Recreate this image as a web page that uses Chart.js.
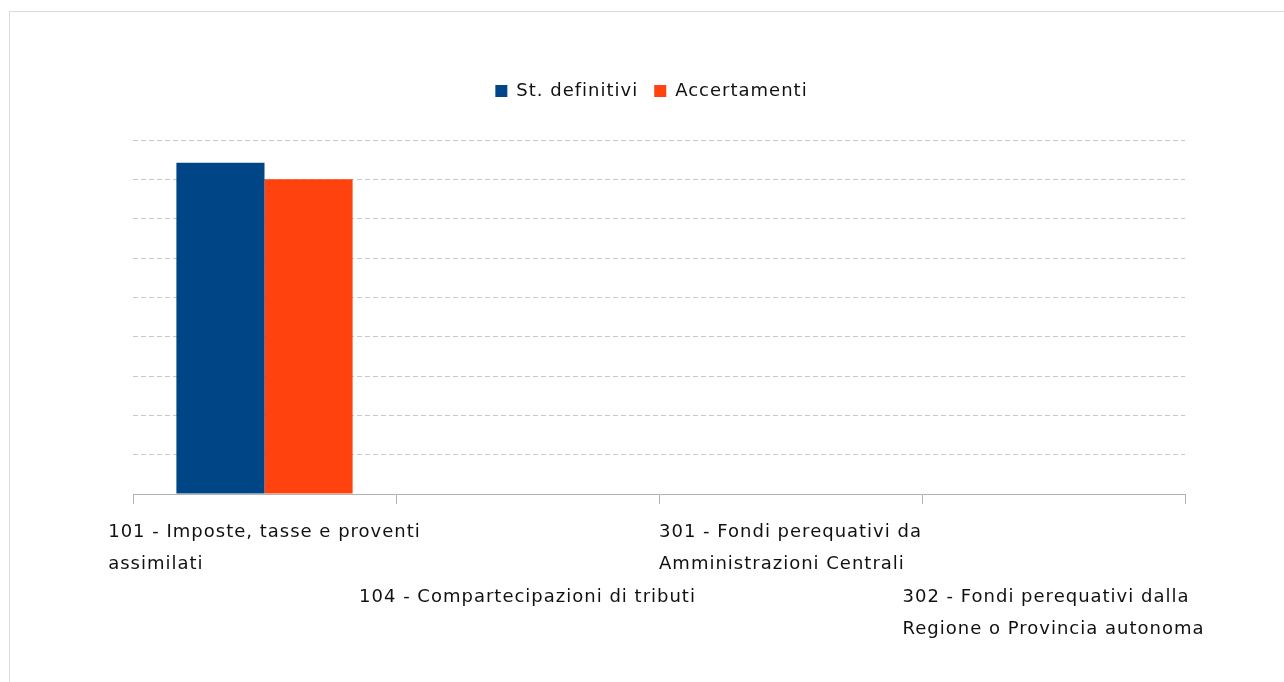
<!DOCTYPE html>
<html>
<head>
<meta charset="utf-8">
<script src="https://cdn.jsdelivr.net/npm/chart.js@4"></script>
<style>
  html, body { margin: 0; padding: 0; background: #fff; overflow: hidden; }
  #wrap { position: relative; width: 1284px; height: 682px; }
  #frame { position: absolute; left: 9px; top: 11px; width: 1400px; height: 800px;
           border-left: 1px solid #dcdcdc; border-top: 1px solid #dcdcdc; }
  canvas { position: absolute; left: 0; top: 0; }
</style>
</head>
<body>
<div id="wrap">
  <div id="frame"></div>
  <canvas id="c" width="1284" height="682"></canvas>
</div>
<script>
const categories = [
  ['101 - Imposte, tasse e proventi', 'assimilati'],
  ['104 - Compartecipazioni di tributi'],
  ['301 - Fondi perequativi da', 'Amministrazioni Centrali'],
  ['302 - Fondi perequativi dalla', 'Regione o Provincia autonoma']
];
const seriesNames = ['St. definitivi', 'Accertamenti'];
const stDefinitivi = [8.42, 0, 0, 0];
const accertamenti = [8.0, 0, 0, 0];
const yMin = 0, yMax = 9, yStep = 1;

const FONT = '"DejaVu Sans"';
const LS = '1px';

const spacingPlugin = {
  id: 'spacing',
  beforeLayout(chart) { chart.ctx.letterSpacing = LS; },
  beforeDraw(chart) { chart.ctx.letterSpacing = LS; }
};

const legendGap = {
  id: 'legendGap',
  beforeInit(chart) {
    const lg = chart.legend;
    const orig = lg.fit;
    lg.fit = function () { orig.call(this); this.height = 74; };
  }
};

const xLabels = {
  id: 'xLabels',
  afterDraw(chart) {
    const ctx = chart.ctx;
    const xs = chart.scales.x;
    const base = chart.chartArea.bottom;
    ctx.save();
    ctx.letterSpacing = LS;
    ctx.font = '18px ' + FONT;
    ctx.fillStyle = '#111';
    ctx.textAlign = 'left';
    ctx.textBaseline = 'alphabetic';
    categories.forEach((lines, i) => {
      const cx = xs.getPixelForValue(i);
      const w = Math.max(...lines.map(l => ctx.measureText(l).width));
      const x0 = cx - w / 2;
      const row = i % 2;
      lines.forEach((l, j) => {
        ctx.fillText(l, x0, base + 43 + row * 65 + j * 32);
      });
    });
    ctx.restore();
  }
};

new Chart(document.getElementById('c'), {
  type: 'bar',
  data: {
    labels: categories,
    datasets: [
      { label: seriesNames[0], data: stDefinitivi, backgroundColor: '#004586', borderWidth: 0,
        categoryPercentage: 0.67, barPercentage: 1.0 },
      { label: seriesNames[1], data: accertamenti, backgroundColor: '#ff420e', borderWidth: 0,
        categoryPercentage: 0.67, barPercentage: 1.0 }
    ]
  },
  options: {
    responsive: false,
    animation: false,
    devicePixelRatio: 1,
    layout: { padding: { left: 118, right: 99, top: 66, bottom: 178 } },
    plugins: {
      legend: {
        display: true,
        position: 'top',
        labels: {
          boxWidth: 12, boxHeight: 12, padding: 16,
          color: '#111',
          font: { family: FONT, size: 18 }
        }
      },
      tooltip: { enabled: false },
      title: { display: false }
    },
    scales: {
      x: {
        offset: true,
        ticks: { display: false },
        grid: { display: true, drawOnChartArea: false, drawTicks: true, tickLength: 10,
                color: '#b3b3b3', offset: true },
        border: { display: true, color: '#b3b3b3', width: 1 }
      },
      y: {
        min: yMin, max: yMax,
        ticks: { display: false, stepSize: yStep },
        grid: { display: true, drawTicks: false, color: '#c8c8c8', lineWidth: 1 },
        border: { display: false, dash: [5, 3] },
        afterFit(scale) { scale.width = 15; }
      }
    }
  },
  plugins: [spacingPlugin, legendGap, xLabels]
});
</script>
</body>
</html>
